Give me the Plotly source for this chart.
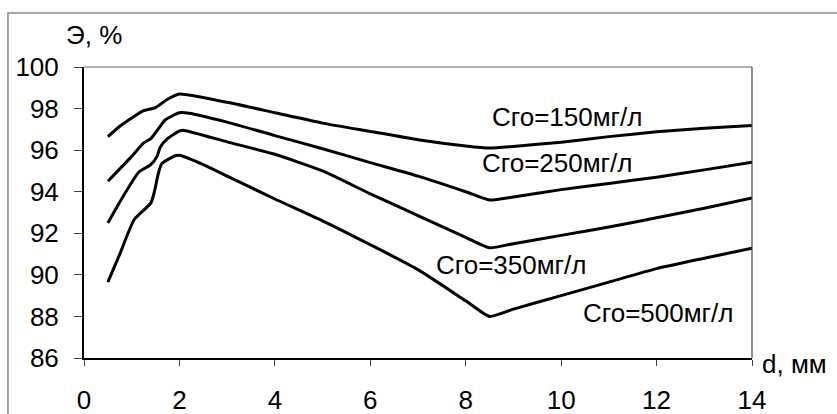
import plotly.graph_objects as go

# x positions (d, mm)
d_150 = [0.5, 0.75, 1.0, 1.25, 1.5, 1.75, 2.0, 3, 4, 5, 6, 7, 8, 8.5, 9, 10, 11, 12, 13, 14]
e_150 = [96.65, 97.15, 97.55, 97.9, 98.05, 98.45, 98.7, 98.3, 97.8, 97.3, 96.9, 96.5, 96.2, 96.1, 96.18, 96.38, 96.65, 96.88, 97.05, 97.18]

d_250 = [0.5, 0.75, 1.0, 1.25, 1.4, 1.55, 1.7, 2.0, 2.2, 3, 4, 5, 6, 7, 8, 8.5, 9, 10, 11, 12, 13, 14]
e_250 = [94.5, 95.1, 95.7, 96.35, 96.55, 97.0, 97.45, 97.8, 97.78, 97.35, 96.7, 96.07, 95.4, 94.75, 94.0, 93.6, 93.75, 94.1, 94.4, 94.7, 95.05, 95.42]

d_350 = [0.5, 0.8, 1.15, 1.4, 1.53, 1.6, 1.75, 2.0, 2.1, 3, 4, 5, 6, 7, 8, 8.5, 9, 10, 11, 12, 13, 14]
e_350 = [92.5, 93.7, 94.95, 95.3, 95.7, 96.15, 96.55, 96.92, 96.95, 96.4, 95.8, 95.0, 93.9, 92.85, 91.8, 91.3, 91.5, 91.9, 92.3, 92.75, 93.2, 93.7]

d_500 = [0.5, 0.75, 1.05, 1.4, 1.47, 1.56, 1.63, 1.9, 2.0, 2.5, 3, 4, 5, 6, 7, 8, 8.5, 9, 10, 11, 12, 13, 14]
e_500 = [89.65, 91.0, 92.65, 93.45, 93.95, 94.9, 95.35, 95.72, 95.75, 95.3, 94.75, 93.65, 92.6, 91.45, 90.25, 88.75, 88.0, 88.35, 89.0, 89.65, 90.3, 90.8, 91.28]

series = [(d_150, e_150), (d_250, e_250), (d_350, e_350), (d_500, e_500)]

label_text = ["Сго=150мг/л", "Сго=250мг/л", "Сго=350мг/л", "Сго=500мг/л"]
label_x = [10.12, 9.91, 8.94, 12.04]
label_y = [97.6, 95.37, 90.48, 88.16]

x_ticks = [0, 2, 4, 6, 8, 10, 12, 14]
y_ticks = [86, 88, 90, 92, 94, 96, 98, 100]

FONT = "Liberation Sans, Arial, sans-serif"
FS = 26

fig = go.Figure()
for xs, ys in series:
    fig.add_trace(go.Scatter(x=xs, y=ys, mode="lines",
                             line=dict(color="black", width=3, shape="spline", smoothing=0.5),
                             showlegend=False, hoverinfo="skip"))

for t, x, y in zip(label_text, label_x, label_y):
    fig.add_annotation(x=x, y=y, text=t, showarrow=False, xref="x", yref="y",
                       font=dict(family=FONT, size=FS, color="black"))

# axis titles
fig.add_annotation(x=-0.03, y=1.11, xref="paper", yref="paper", text="Э, %", showarrow=False,
                   xanchor="left", yanchor="middle", font=dict(family=FONT, size=FS, color="black"))
fig.add_annotation(x=1.012, y=-0.02, xref="paper", yref="paper", text="d, мм", showarrow=False,
                   xanchor="left", yanchor="middle", font=dict(family=FONT, size=FS, color="black"))

# outer frame
fig.add_shape(type="rect", xref="paper", yref="paper", x0=-0.1138, x1=1.14, y0=-0.35, y1=1.1856,
              line=dict(color="#888888", width=1.5), layer="below")
# top and right border of plot area
fig.add_shape(type="line", xref="paper", yref="paper", x0=0, x1=1, y0=1, y1=1,
              line=dict(color="#666666", width=1))
fig.add_shape(type="line", xref="paper", yref="paper", x0=1, x1=1, y0=0, y1=1,
              line=dict(color="#444444", width=1.2))

fig.update_xaxes(range=[0, 14], tickvals=x_ticks, ticktext=[str(v) for v in x_ticks],
                 showgrid=False, zeroline=False, showline=True, linecolor="black", linewidth=2,
                 ticks="outside", ticklen=6, tickcolor="#444", tickwidth=1,
                 ticklabelstandoff=12, automargin=False,
                 tickfont=dict(family=FONT, size=FS, color="black"))
fig.update_yaxes(range=[86, 100], tickvals=y_ticks, ticktext=[str(v) for v in y_ticks],
                 showgrid=False, zeroline=False, showline=True, linecolor="black", linewidth=2,
                 ticks="outside", ticklen=8, tickcolor="#444", tickwidth=1,
                 ticklabelstandoff=10, automargin=False,
                 tickfont=dict(family=FONT, size=FS, color="black"))

fig.update_layout(width=837, height=414, margin=dict(l=84, r=85, t=67, b=56, autoexpand=False),
                  paper_bgcolor="white", plot_bgcolor="white")

fig.write_html("out.html")
